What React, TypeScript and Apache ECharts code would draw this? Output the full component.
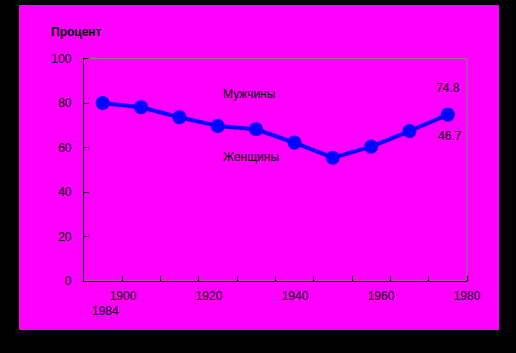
import React, { useEffect, useRef } from "react";
import * as echarts from "echarts";

const categories = ["1", "2", "3", "4", "5", "6", "7", "8", "9", "10"];
const percentValues = [80.0, 78.1, 73.6, 69.7, 68.2, 62.2, 55.4, 60.4, 67.4, 74.8];
const yearTicks = [1900, 1920, 1940, 1960, 1980];
const yTicks = [0, 20, 40, 60, 80, 100];

const FONT = '"Liberation Sans", Arial, sans-serif';

export default function App() {
  const ref = useRef<HTMLDivElement>(null);
  useEffect(() => {
    if (!ref.current) return;
    const chart = echarts.init(ref.current, undefined, { renderer: "svg" });
    const last = percentValues.length - 1;
    chart.setOption({
      animation: false,
      backgroundColor: "#000000",
      textStyle: { fontFamily: FONT },
      grid: [
        {
          left: 83.5,
          top: 58.5,
          right: 49,
          bottom: 72,
          show: true,
          borderColor: "#808080",
          borderWidth: 1,
          backgroundColor: "transparent",
        },
        { left: 123, top: 58.5, right: 49, bottom: 72, show: false },
      ],
      xAxis: [
        {
          type: "category",
          gridIndex: 0,
          data: categories,
          boundaryGap: true,
          axisLine: { show: true, lineStyle: { color: "#000000", width: 1 } },
          axisTick: { show: true, inside: true, length: 5, interval: 0, lineStyle: { color: "#000000" } },
          axisLabel: { show: false },
          splitLine: { show: false },
        },
        {
          type: "value",
          gridIndex: 1,
          min: yearTicks[0],
          max: yearTicks[yearTicks.length - 1],
          interval: 20,
          axisLine: { show: false },
          axisTick: { show: false },
          splitLine: { show: false },
          axisLabel: {
            show: true,
            margin: 9,
            color: "#000000",
            fontSize: 12,
            fontFamily: FONT,
            showMinLabel: true,
            showMaxLabel: true,
            formatter: (v: number) => String(v),
          },
        },
      ],
      yAxis: [
        {
          type: "value",
          gridIndex: 0,
          min: yTicks[0],
          max: yTicks[yTicks.length - 1],
          interval: 20,
          axisLine: { show: true, lineStyle: { color: "#000000", width: 1 } },
          axisTick: { show: true, inside: true, length: 5, lineStyle: { color: "#000000" } },
          axisLabel: { color: "#000000", fontSize: 12, margin: 12, fontFamily: FONT },
          splitLine: { show: false },
        },
        {
          type: "value",
          gridIndex: 1,
          min: 0,
          max: 100,
          show: false,
        },
      ],
      graphic: [
        {
          type: "rect",
          z: -100,
          silent: true,
          shape: { x: 19, y: 5, width: 480, height: 325 },
          style: { fill: "#FF00FF" },
        },
        {
          type: "text",
          left: 51,
          top: 26,
          style: { text: "Процент", fill: "#000000", font: `bold 12px ${FONT}` },
        },
        {
          type: "text",
          left: 223,
          top: 88,
          style: { text: "Мужчины", fill: "#000000", font: `12px ${FONT}` },
        },
        {
          type: "text",
          left: 223,
          top: 151,
          style: { text: "Женщины", fill: "#000000", font: `12px ${FONT}` },
        },
        {
          type: "text",
          left: 438,
          top: 130,
          style: { text: "46.7", fill: "#000000", font: `12px ${FONT}` },
        },
        {
          type: "text",
          left: 92,
          top: 305,
          style: { text: "1984", fill: "#000000", font: `12px ${FONT}` },
        },
      ],
      series: [
        {
          type: "line",
          xAxisIndex: 0,
          yAxisIndex: 0,
          data: percentValues.map((v, i) =>
            i === last
              ? {
                  value: v,
                  label: {
                    show: true,
                    position: "top",
                    distance: 14,
                    color: "#000000",
                    fontSize: 12,
                    fontFamily: FONT,
                    formatter: (p: any) => String(p.value),
                  },
                }
              : v
          ),
          symbol: "circle",
          symbolSize: 14,
          lineStyle: { color: "#0000FF", width: 4 },
          itemStyle: { color: "#0000FF" },
          label: { show: false },
        },
      ],
    });
    return () => chart.dispose();
  }, []);
  return (
    <div
      ref={ref}
      style={{ position: "fixed", left: 0, top: 0, width: 516, height: 353 }}
    />
  );
}
